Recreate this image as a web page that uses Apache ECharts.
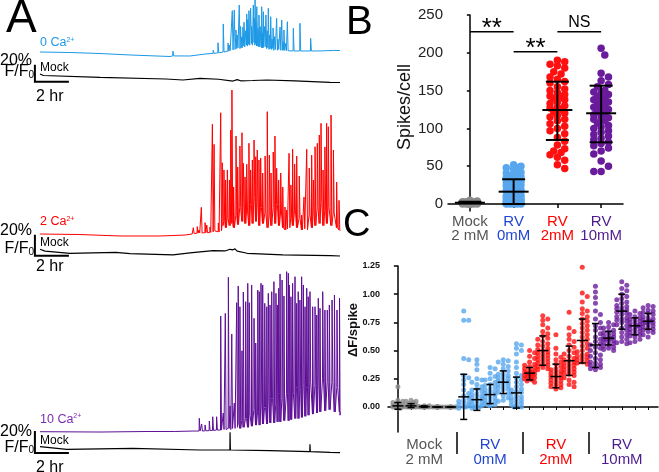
<!DOCTYPE html>
<html><head><meta charset="utf-8">
<script src="https://cdn.jsdelivr.net/npm/echarts@6/dist/echarts.min.js"></script>
<style>html,body{margin:0;padding:0;background:#fff}#c{width:659px;height:472px}</style>
</head><body><div id="c"></div>
<script>
// ---------- Panel A: calcium traces (time in hours, amplitude in % F/F0) ----------
const blueBaseT = [0, 1.76, 3.53, 5.29, 7.65, 8.82, 9.71, 10.05, 14.7, 15.6, 16.2, 17.0, 17.65];
const blueBaseV = [0, -0.6, -1.8, -3.5, -5.3, -4.7, -2.4, -1.8, 1.4, 1.2, 1.2, 1.6, 1.8];
const blueSpikeT = [7.82,10.19,10.47,10.78,11.06,11.14,11.31,11.43,11.53,11.6,11.72,11.8,11.85,11.94,12.0,12.1,12.16,12.22,12.29,12.39,12.45,12.55,12.6,12.65,12.7,12.75,12.82,12.88,12.95,13.04,13.1,13.14,13.2,13.29,13.36,13.43,13.5,13.57,13.65,13.71,13.8,13.92,14.0,14.12,14.22,14.3,14.35,14.45,14.55,14.9,15.29,15.92,16.57,16.82,17.29];
const blueSpikeTop = [1,2,10.9,33,10.6,8.2,48.6,49.4,25.9,20,55.3,30,17.6,29.4,35,25,44.7,38,48.6,51.4,30,55.3,40,61.2,35,53.3,28,43.5,30,53.3,22,47.4,30,43.5,25,51.4,20,41.5,15,28.2,18,39.6,15,29.4,37.6,12,25.9,10,35.6,27.9,33.8,16.1,3.2,3.5,2.4];
const blueSpikeFoot = [-4.6,-1.6,-1,0,1,1.5,2.5,3,4,5,4,6,5,7,6,8,7,9,8,10,8,9,11,8,10,7,9,6,8,5,7,5,6,4,5,3,4,3,4,2,3,2,3,2,2,2,2,1.5,1.5,1.2,1.2,1.2,1.3,1.5,1.8];

const redBaseT = [0, 2.35, 4.7, 7.06, 8.53, 8.95, 17.65];
const redBaseV = [0, -0.5, -1.9, -1.9, -1, 0, 3];
const redSpikeT = [9.02,9.25,9.35,9.49,9.71,9.81,10.0,10.14,10.24,10.49,10.63,10.72,10.82,10.92,11.02,11.14,11.22,11.29,11.39,11.53,11.63,11.76,11.88,11.96,12.06,12.16,12.29,12.39,12.49,12.59,12.69,12.78,12.88,12.98,13.1,13.24,13.37,13.49,13.59,13.72,13.82,13.92,14.04,14.16,14.28,14.41,14.51,14.65,14.76,14.86,14.98,15.1,15.25,15.39,15.53,15.69,15.84,15.98,16.08,16.18,16.31,16.43,16.53,16.65,16.76,16.86,16.96,17.12,17.26,17.45,17.59];
const redSpikeTop = [6,7,3.8,25.4,10.8,8.6,6.7,104.5,85.4,10.5,115.5,67.9,61,51.4,61,51.4,99,137.1,44.8,93.3,63.8,83.8,96.5,67.3,54.3,66.4,86.4,61,70.5,89.5,73.6,80,70.5,72.4,58.1,74.3,116.5,75.2,58.1,78.1,93.3,62.6,51.4,58.1,44.8,25.7,22.9,76.9,46.7,80.7,66.7,74.3,55.2,18.1,35.2,80.7,62.9,75.2,51.4,83.1,86.4,94.3,105.4,61,82.9,105.4,102.2,113.3,80,49.5,32];
const redSpikeFoot = [0.5,0.8,1,1,1.2,1.2,1.5,2,3,2,3,8,12,6,15,8,20,10,6,18,9,25,12,30,10,22,8,28,10,35,12,30,8,25,10,20,6,18,8,25,10,28,8,20,6,4,5,6,15,8,22,6,15,4,5,4,18,6,20,8,25,10,30,8,22,10,25,8,20,6,4];

const purpleBaseT = [0, 3.53, 6.47, 9.0, 10.5, 17.65];
const purpleBaseV = [0, -0.3, 0.2, 0.6, 1.5, 15];
const purpleSpikeT = [7.94,9.37,9.51,9.71,9.96,10.16,10.39,10.63,10.78,10.9,11.08,11.18,11.28,11.43,11.57,11.66,11.76,11.88,11.96,12.1,12.22,12.31,12.45,12.59,12.69,12.81,12.9,13.0,13.1,13.22,13.34,13.43,13.53,13.63,13.76,13.88,13.96,14.04,14.12,14.24,14.35,14.51,14.61,14.66,14.76,14.86,15.0,15.1,15.19,15.29,15.39,15.49,15.59,15.69,15.78,15.88,16.04,16.18,16.28,16.37,16.47,16.63,16.76,16.9,17.02,17.18,17.32,17.47,17.62];
const purpleSpikeTop = [1.5,12.2,7,6.1,9.7,13.6,13.6,105.2,17,107.6,140.4,23.4,88.8,26.1,117.3,132.5,113.6,73.6,127,118.2,134.9,117.3,133.4,103.1,80.6,128.8,127.3,134.9,133.4,116.7,113.6,125.8,115.2,127.3,136.4,125.8,115.2,130.4,143.4,137.9,123.4,145.5,144,133.4,122.7,134.9,140.9,116.7,127.3,119.7,140.9,133.4,113.6,130.4,122.7,127.3,113.6,113.6,106.1,121.3,112.2,127.3,110.6,110.6,115.2,119.7,124.3,110.6,121.5];
const purpleSpikeFoot = [0.2,0.6,0.6,0.8,1,1.2,1.5,1.5,2,2,3,2,3,3,4,8,3,10,4,12,4,15,5,20,6,18,6,25,7,22,7,28,8,30,8,25,9,35,9,30,10,35,10,40,11,35,12,40,12,38,13,42,14,40,15,45,16,42,17,45,18,48,19,45,20,45,18,40,18];

const mock1T = [0, 0.2, 3.53, 7.41, 8.41, 9.41, 10.5, 11.35, 11.6, 11.8, 12.5, 13.35, 15, 17.06, 17.65];
const mock1V = [1.2, -0.6, -2.7, -4.7, -5.9, -3.9, -5, -7.1, -5.5, -6.8, -6.5, -5.9, -7, -8.6, -8.8];
const mock2T = [0, 0.3, 1.76, 4.47, 5.29, 7.82, 8.82, 10.18, 10.88, 11.18, 11.29, 11.35, 11.47, 11.6, 12.18, 14.29, 17.06, 17.65];
const mock2V = [0.2, -1.5, -3.6, -2.7, -4, -5.2, -3.3, -1.1, -1.4, 0.2, 1.1, -0.3, 0.6, -1.5, -3.6, -5.2, -5.9, -6.2];
const mock3T = [0, 1.57, 5.47, 9.41, 11.17, 11.18, 11.2, 13.53, 15.87, 15.88, 15.9, 17.06, 17.65];
const mock3V = [0, -2.4, -1.5, -3, -3, 13.1, -3, -3.5, -4.5, 2.2, -4.5, -5.1, -5.3];

const scaleBarHours = 2, scaleBarPct = 20;
const traceLabels = ['0 Ca', '2 Ca', '10 Ca'];

// ---------- Panel B: spikes per cell ----------
const groupTop = ['Mock', 'RV', 'RV', 'RV'];
const groupBottom = ['2 mM', '0mM', '2mM', '10mM'];
const bMock = [0,0,0,0,0,0,0,0,0,0,0,0,0,1,1,1,1,1,1,1,2,2,2,2,3,3,4,5,1,0,2,0,1,3];
const bRV0 = [52,50,48,48,46,42,41,40,38,37,36,35,34,33,31,30,29,28,27,26,25,24,22,21,20,19,18,16,15,14,12,11,10,9,8,7,6,5,4,3,3,2,2,1,1,0,0,0,0,0,1,2,3,5,8,10];
const bRV2 = [190,188,185,183,180,175,172,168,165,162,160,155,152,150,147,145,142,140,138,135,133,130,128,125,122,120,117,115,112,110,106,103,100,97,93,88,83,78,73,70,68,65,62,58,52,47,127,143];
const bRV10 = [206,197,173,168,163,158,155,150,148,145,142,140,137,135,132,130,128,125,122,120,118,115,112,110,107,104,100,97,95,92,90,87,85,82,80,77,74,70,66,57,50,43,43,138,126,114,102,147];
const bMean = [1.7, 16.3, 124.3, 120];
const bLo = [0.5, 0, 84.7, 81.6];
const bHi = [3, 32.7, 161.8, 156.5];
const bTicks = [0, 50, 100, 150, 200, 250];
const sigFrom = [0, 1, 2], sigTo = [1, 2, 3], sigY = [227.9, 201.5, 227.9], sigText = ['**', '**', 'NS'];

// ---------- Panel C: dF per spike, 5 cells per condition ----------
const cMock = [
  [0.18,0.06,0.05,0.04,0.03,0.02,0.02,0.01,0.01,0.01,0,0,0,0,0,0,0,-0.01,-0.01,0],
  [0.06,0.05,0.05,0.04,0.03,0.02,0.02,0.01,0.01,0.01,0,0,0,0,0,0,0.01],
  [0.01,0.01,0.005,0,0,0,0,0,0,0,0,0],
  [0.005,0,0,0,0,0,0,0,0,0],
  [0,0,0,0,0,0,0,0,0]
];
const cRV0 = [
  [0.85,0.77,0.77,0.43,0.42,0.28,0.26,0.24,0.2,0.15,0.12,0.1,0.08,0.06,0.05,0.04,0.03,0.02,0.01,0,0,-0.01],
  [0.42,0.38,0.33,0.25,0.24,0.22,0.2,0.18,0.16,0.15,0.14,0.12,0.11,0.1,0.09,0.08,0.07,0.06,0.05,0.04,0.03,0.02,0.01,0,0,-0.01,0],
  [0.35,0.34,0.3,0.27,0.25,0.24,0.22,0.2,0.19,0.18,0.16,0.15,0.14,0.13,0.12,0.11,0.1,0.09,0.08,0.07,0.06,0.05,0.04,0.03,0.02,0.02,0.01],
  [0.42,0.41,0.4,0.38,0.36,0.34,0.32,0.3,0.29,0.28,0.27,0.26,0.25,0.24,0.23,0.22,0.21,0.2,0.19,0.18,0.17,0.16,0.15,0.13,0.12,0.1,0.08,0.06,0.05],
  [0.56,0.55,0.52,0.5,0.47,0.4,0.35,0.3,0.28,0.26,0.24,0.22,0.2,0.18,0.16,0.15,0.14,0.13,0.12,0.1,0.09,0.08,0.07,0.06,0.05,0.04,0.03,0.02,0.01,0,0]
];
const cRV2 = [
  [0.5,0.48,0.45,0.43,0.4,0.38,0.37,0.36,0.35,0.34,0.33,0.32,0.31,0.31,0.3,0.3,0.29,0.29,0.28,0.28,0.27,0.27,0.26,0.25,0.25,0.24,0.23,0.22],
  [0.81,0.78,0.77,0.73,0.7,0.67,0.65,0.63,0.61,0.6,0.58,0.56,0.55,0.54,0.52,0.51,0.5,0.49,0.48,0.47,0.46,0.45,0.44,0.43,0.42,0.41,0.4,0.39,0.38,0.37,0.36,0.35,0.34,0.33],
  [0.64,0.52,0.47,0.44,0.42,0.4,0.38,0.36,0.34,0.33,0.32,0.31,0.3,0.29,0.28,0.27,0.26,0.25,0.24,0.23,0.22,0.21,0.2,0.19,0.18,0.17,0.16],
  [0.84,0.7,0.67,0.64,0.6,0.58,0.55,0.53,0.5,0.48,0.47,0.45,0.43,0.42,0.41,0.4,0.39,0.38,0.37,0.36,0.35,0.34,0.33,0.32,0.31,0.3,0.29,0.28,0.26,0.24,0.22,0.2,0.18],
  [1.24,1.01,0.98,0.93,0.87,0.85,0.83,0.8,0.78,0.76,0.74,0.72,0.7,0.68,0.66,0.64,0.62,0.6,0.58,0.56,0.54,0.52,0.5,0.49,0.47,0.46,0.45,0.44,0.43,0.42,0.41,0.4,0.39,0.38]
];
const cRV10 = [
  [1.07,1.02,0.97,0.92,0.85,0.82,0.78,0.75,0.72,0.7,0.68,0.65,0.62,0.6,0.58,0.56,0.55,0.53,0.52,0.5,0.48,0.46,0.45,0.43,0.42,0.4,0.39,0.38,0.37,0.36,0.35,0.34,0.33],
  [0.75,0.73,0.71,0.7,0.68,0.67,0.66,0.65,0.64,0.63,0.62,0.61,0.61,0.6,0.6,0.59,0.58,0.57,0.56,0.55,0.54,0.53,0.52,0.51,0.5],
  [1.11,1.08,1.05,1.03,1.0,0.98,0.96,0.95,0.93,0.92,0.9,0.89,0.88,0.87,0.86,0.85,0.84,0.83,0.82,0.8,0.79,0.78,0.77,0.76,0.75,0.73,0.72,0.7,0.68,0.66,0.64,0.62,0.6,0.58,0.57,0.56],
  [0.85,0.83,0.82,0.8,0.79,0.78,0.77,0.76,0.75,0.74,0.73,0.72,0.72,0.71,0.7,0.69,0.68,0.67,0.66,0.65,0.64,0.63,0.62,0.6,0.58,0.57],
  [0.9,0.89,0.88,0.86,0.85,0.84,0.83,0.82,0.8,0.79,0.78,0.77,0.76,0.76,0.75,0.75,0.74,0.73,0.72,0.71,0.7,0.69,0.68,0.67,0.66,0.64,0.62]
];
const cMean = [0.01,0.01,0.003,0,0, 0.09,0.065,0.11,0.22,0.125, 0.3,0.5,0.27,0.41,0.59, 0.55,0.61,0.85,0.72,0.76];
const cLo = [-0.02,-0.005,-0.003,0,0, -0.11,-0.03,0.03,0.12,-0.01, 0.24,0.37,0.17,0.28,0.39, 0.35,0.55,0.69,0.64,0.69];
const cHi = [0.04,0.03,0.01,0,0, 0.29,0.16,0.2,0.32,0.265, 0.35,0.63,0.38,0.54,0.78, 0.74,0.67,1.0,0.79,0.83];
const cTicks = [0, 0.25, 0.5, 0.75, 1.0, 1.25];

// ---------- styling / layout ----------
const FF = 'Arial, Liberation Sans, Helvetica, sans-serif';
const COL = {
  blueTrace: '#1c98e6', red: '#ff0000', purpleTrace: '#5e0f96',
  dots: ['#8c8c8c', '#58a6ee', '#ff1010', '#6a1b9c'],
  labels: ['#555555', '#1f45d2', '#ff0000', '#4d1b8f'],
  traceLab: ['#1c98e6', '#ff0000', '#7a2db2']
};
const TX = {left: 34.05, width: 306, min: -0.35, max: 17.65};
function tg(zeroY, pxPer, top, bottom) {
  return {grid: {left: TX.left, width: TX.width, top: top, height: bottom - top},
          min: -(bottom - zeroY) / pxPer, max: (zeroY - top) / pxPer};
}
const TG = [tg(52, 0.85, 0, 62), tg(75, 0.85, 62, 90), tg(234, 1.05, 85, 242), tg(249.5, 1.05, 230, 262), tg(431.7, 1.1, 262, 440), tg(446.7, 1.1, 425, 462)];
const scaleAnchor = [{t: -0.3, v: -7.9}, {t: -0.3, v: -5.9}, {t: -0.3, v: -5.7}];

const BG = {left: 448, width: 175, top: 15, height: 196, ymin: -9.26, ymax: 250};
const CG = {left: 388, width: 270, top: 266, height: 166, ymin: -0.2216, ymax: 1.25, xmin: -0.75, xmax: 19.75};

function buildTrace(bT, bV, sT, sTop, sFoot) {
  const pts = bT.map((t, i) => [t, bV[i]]);
  sT.forEach((t, i) => { pts.push([t - 0.012, sFoot[i]], [t, sTop[i]], [t + 0.045, sFoot[i]]); });
  pts.sort((a, b) => a[0] - b[0]);
  return pts;
}
function pairs(T, V) { return T.map((t, i) => [t, V[i]]); }

function swarm(vals, center, dot, pxX, pxY, maxOff, step) {
  const placed = [], out = [];
  const cands = [0];
  for (let k = step; k <= maxOff + 1e-9; k += step) cands.push(k, -k);
  vals.slice().sort((a, b) => b - a).forEach(v => {
    const py = v * pxY; let best = 0, bestD = -1;
    for (const ox of cands) {
      let md = Infinity;
      for (const p of placed) { const d = Math.hypot(p[0] - ox, p[1] - py); if (d < md) md = d; }
      if (md >= dot) { best = ox; bestD = md; break; }
      if (md > bestD) { bestD = md; best = ox; }
    }
    placed.push([best, py]);
    out.push([center + best / pxX, v]);
  });
  return out;
}

const grids = TG.map(g => g.grid).concat([
  {left: BG.left, width: BG.width, top: BG.top, height: BG.height},
  {left: CG.left, width: CG.width, top: CG.top, height: CG.height}
]);
const xAxes = TG.map((g, i) => ({type: 'value', gridIndex: i, min: TX.min, max: TX.max, show: false}));
const yAxes = TG.map((g, i) => ({type: 'value', gridIndex: i, min: g.min, max: g.max, show: false}));

const axisLineBlack = {show: true, lineStyle: {color: '#000', width: 1.5}};
const grpRich = {};
COL.labels.forEach((c, i) => { grpRich['g' + i] = {color: c, fontSize: 15, fontFamily: FF, lineHeight: 14, align: 'center'}; });
const grpRichC = {};
COL.labels.forEach((c, i) => { grpRichC['g' + i] = {color: c, fontSize: 15, fontFamily: FF, lineHeight: 15, align: 'center'}; });
function grpLabel(i) { return '{g' + i + '|' + groupTop[i] + '}\n{g' + i + '|' + groupBottom[i] + '}'; }

// B axes (index 6)
xAxes.push({type: 'value', gridIndex: 6, min: -0.5, max: 3.5, axisLine: axisLineBlack,
  splitLine: {show: false},
  axisTick: {show: true, customValues: [0, 1, 2, 3], length: 4, lineStyle: {color: '#000', width: 1.5}},
  axisLabel: {show: true, customValues: [0, 1, 2, 3], margin: 4, formatter: v => grpLabel(Math.round(v)), rich: grpRich}});
yAxes.push({type: 'value', gridIndex: 6, min: BG.ymin, max: BG.ymax, axisLine: axisLineBlack,
  splitLine: {show: false},
  axisTick: {show: true, customValues: bTicks, length: 3, lineStyle: {color: '#000', width: 1.5}},
  axisLabel: {show: true, customValues: bTicks, margin: 5, color: '#222', fontSize: 15, fontFamily: FF}});
// C axes (index 7) + group axis (x index 8)
const colIdx = []; for (let i = 0; i < 20; i++) colIdx.push(i);
xAxes.push({type: 'value', gridIndex: 7, min: CG.xmin, max: CG.xmax, axisLine: axisLineBlack,
  splitLine: {show: false},
  axisTick: {show: true, customValues: colIdx, length: 3, lineStyle: {color: '#000', width: 1}},
  axisLabel: {show: false}});
xAxes.push({type: 'value', gridIndex: 7, position: 'bottom', min: CG.xmin, max: CG.xmax, axisLine: {show: false},
  splitLine: {show: false},
  axisTick: {show: true, customValues: [4.5, 9.5, 14.5], length: 22, lineStyle: {color: '#000', width: 1.5}},
  axisLabel: {show: true, customValues: [2, 7, 12, 17], margin: 5, formatter: v => grpLabel(Math.round((v - 2) / 5)), rich: grpRichC}});
yAxes.push({type: 'value', gridIndex: 7, min: CG.ymin, max: CG.ymax, axisLine: axisLineBlack,
  splitLine: {show: false},
  axisTick: {show: true, customValues: cTicks, length: 4, lineStyle: {color: '#000', width: 1.5}},
  axisLabel: {show: true, customValues: cTicks, margin: 8, formatter: v => v.toFixed(2), color: '#111', fontSize: 9, fontWeight: 'bold', fontFamily: FF}});

const series = [];
function line(gi, data, color, w) {
  return {type: 'line', xAxisIndex: gi, yAxisIndex: gi, data: data, showSymbol: false, symbol: 'none',
    lineStyle: {color: color, width: w}, silent: true, animation: false, z: 2, sampling: null};
}
series.push(line(0, buildTrace(blueBaseT, blueBaseV, blueSpikeT, blueSpikeTop, blueSpikeFoot), COL.blueTrace, 1));
series.push(line(1, pairs(mock1T, mock1V), '#000', 1.2));
series.push(line(2, buildTrace(redBaseT, redBaseV, redSpikeT, redSpikeTop, redSpikeFoot), COL.red, 1));
series.push(line(3, pairs(mock2T, mock2V), '#000', 1.2));
series.push(line(4, buildTrace(purpleBaseT, purpleBaseV, purpleSpikeT, purpleSpikeTop, purpleSpikeFoot), COL.purpleTrace, 1));
series.push(line(5, pairs(mock3T, mock3V), '#000', 1.2));
// scale bars
[1, 3, 5].forEach((gi, r) => {
  series.push({type: 'custom', xAxisIndex: gi, yAxisIndex: gi, silent: true, animation: false,
    data: [[scaleAnchor[r].t, scaleAnchor[r].v]],
    renderItem: (p, api) => {
      const t0 = api.value(0), v0 = api.value(1);
      const a = api.coord([t0, v0 + scaleBarPct]), o = api.coord([t0, v0]), b = api.coord([t0 + scaleBarHours, v0]);
      return {type: 'polyline', shape: {points: [a, o, b]}, style: {stroke: '#000', lineWidth: 2, fill: null}};
    }});
});

// B scatter
const bPxX = BG.width / 4, bPxY = BG.height / (BG.ymax - BG.ymin);
[bMock, bRV0, bRV2, bRV10].forEach((vals, i) => {
  series.push({type: 'scatter', xAxisIndex: 6, yAxisIndex: 6, symbolSize: 7.5, silent: true, animation: false,
    itemStyle: {color: COL.dots[i], opacity: 1}, data: swarm(vals, i, 7, bPxX, bPxY, 11, 3.67), z: 3});
});
function errRender(meanW, capW, lw) {
  return (p, api) => {
    const x = api.value(0);
    const m = api.coord([x, api.value(1)]), lo = api.coord([x, api.value(2)]), hi = api.coord([x, api.value(3)]);
    const st = {stroke: '#000', lineWidth: lw};
    return {type: 'group', children: [
      {type: 'line', shape: {x1: lo[0], y1: lo[1], x2: hi[0], y2: hi[1]}, style: st},
      {type: 'line', shape: {x1: m[0] - meanW / 2, y1: m[1], x2: m[0] + meanW / 2, y2: m[1]}, style: st},
      {type: 'line', shape: {x1: lo[0] - capW / 2, y1: lo[1], x2: lo[0] + capW / 2, y2: lo[1]}, style: st},
      {type: 'line', shape: {x1: hi[0] - capW / 2, y1: hi[1], x2: hi[0] + capW / 2, y2: hi[1]}, style: st}
    ]};
  };
}
series.push({type: 'custom', xAxisIndex: 6, yAxisIndex: 6, silent: true, animation: false, z: 5,
  data: bMean.map((m, i) => [i, m, bLo[i], bHi[i]]), renderItem: errRender(30, 23, 2)});
series.push({type: 'custom', xAxisIndex: 6, yAxisIndex: 6, silent: true, animation: false, z: 5,
  data: sigFrom.map((f, i) => [f, sigTo[i], sigY[i]]),
  renderItem: (p, api) => {
    const a = api.coord([api.value(0), api.value(2)]), b = api.coord([api.value(1), api.value(2)]);
    const t = sigText[p.dataIndex], isNS = t === 'NS';
    return {type: 'group', children: [
      {type: 'line', shape: {x1: a[0], y1: a[1], x2: b[0], y2: b[1]}, style: {stroke: '#000', lineWidth: 1.5}},
      {type: 'text', style: {text: t, x: (a[0] + b[0]) / 2, y: a[1] - (isNS ? 9 : 3), align: 'center', verticalAlign: 'middle',
        fontSize: isNS ? 16 : 26, fontFamily: FF, fill: '#000'}}
    ]};
  }});

// C scatter
const cPxX = CG.width / (CG.xmax - CG.xmin), cPxY = CG.height / (CG.ymax - CG.ymin);
[cMock, cRV0, cRV2, cRV10].forEach((grp, g) => {
  let data = [];
  grp.forEach((vals, k) => { data = data.concat(swarm(vals, g * 5 + k, 4.5, cPxX, cPxY, 5, 2.5)); });
  series.push({type: 'scatter', xAxisIndex: 7, yAxisIndex: 7, symbolSize: 5, silent: true, animation: false,
    itemStyle: {color: COL.dots[g]}, data: data, z: 3});
});
series.push({type: 'custom', xAxisIndex: 7, yAxisIndex: 7, silent: true, animation: false, z: 5,
  data: cMean.map((m, i) => [i, m, cLo[i], cHi[i]]), renderItem: errRender(11, 7, 1.5)});

// ---------- text annotations ----------
function T(x, y, text, size, color, extra, rot) {
  const el = {type: 'text', x: x, y: y, silent: true, z: 10,
    style: Object.assign({text: text, fill: color, fontSize: size, fontFamily: FF, align: 'left', verticalAlign: 'middle'}, extra || {})};
  if (rot) el.rotation = rot;
  return el;
}
const rowTextY = [
  {lab: 42.7, pct: 60.5, ff: 72, mock: 67.7, hr: 97},
  {lab: 221.7, pct: 231, ff: 249, mock: 242.5, hr: 266.7},
  {lab: 419.5, pct: 431.7, ff: 447.5, mock: 440.5, hr: 468}
];
const graphics = [
  T(6, 19, 'A', 46, '#000'),
  T(346, 23, 'B', 40, '#000'),
  T(343, 226, 'C', 38, '#000'),
  T(405, 107, 'Spikes/cell', 18, '#111', {align: 'center'}, Math.PI / 2),
  T(353, 330, 'ΔF/spike', 13, '#111', {align: 'center', fontWeight: 'bold'}, Math.PI / 2)
];
rowTextY.forEach((r, i) => {
  graphics.push(T(40, r.lab, traceLabels[i] + '{s|2+}', 12.5, COL.traceLab[i],
    {rich: {s: {fontSize: 7, verticalAlign: 'top', fill: COL.traceLab[i], fontFamily: FF}}}));
  graphics.push(T(32, r.pct, '20%', 16, '#000', {align: 'right'}));
  graphics.push(T(34, r.ff, 'F/F{s|0}', 16, '#000', {align: 'right', rich: {s: {fontSize: 10, verticalAlign: 'bottom', fill: '#000', fontFamily: FF}}}));
  graphics.push(T(40, r.mock, 'Mock', 12, '#000'));
  graphics.push(T(36, r.hr, '2 hr', 16, '#000'));
});

const chart = echarts.init(document.getElementById('c'), null, {renderer: 'canvas'});
chart.setOption({
  animation: false,
  backgroundColor: '#fff',
  textStyle: {fontFamily: FF},
  grid: grids,
  xAxis: xAxes,
  yAxis: yAxes,
  series: series,
  graphic: graphics
});
</script></body></html>
